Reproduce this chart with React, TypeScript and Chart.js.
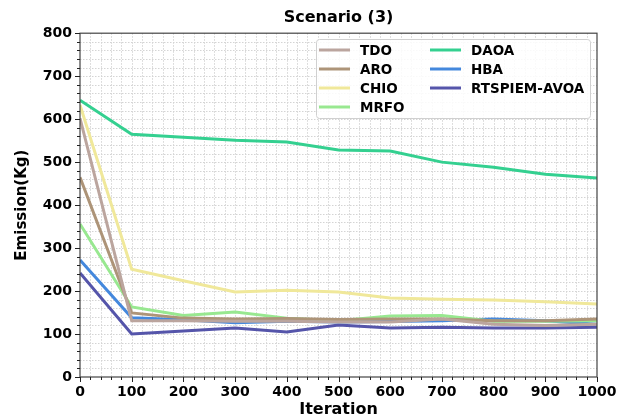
import React, { useEffect, useRef } from "react";
import { Chart, registerables } from "chart.js";

Chart.register(...registerables);

const iterations = [0, 100, 200, 300, 400, 500, 600, 700, 800, 900, 1000];
const seriesNames = ["TDO", "ARO", "CHIO", "MRFO", "DAOA", "HBA", "RTSPIEM-AVOA"];
const seriesColors = ["#bba59e", "#ad9478", "#f0e89a", "#98e890", "#34d090", "#4488dd", "#5555aa"];
const tdo = [602, 131, 131, 130, 130, 128, 128, 135, 123, 120, 123];
const aro = [465, 149, 137, 135, 136, 134, 135, 135, 131, 131, 135];
const chio = [633, 251, 224, 198, 202, 198, 184, 181, 179, 175, 170];
const mrfo = [356, 163, 143, 151, 137, 131, 142, 143, 130, 130, 131];
const daoa = [644, 565, 558, 551, 547, 528, 526, 500, 488, 472, 463];
const hba = [272, 138, 133, 126, 130, 128, 129, 131, 135, 131, 123];
const rtspiem = [242, 100, 107, 114, 105, 121, 114, 116, 114, 114, 116];
const seriesValues = [tdo, aro, chio, mrfo, daoa, hba, rtspiem];
const yTicks = [0, 100, 200, 300, 400, 500, 600, 700, 800];

const FONT = "'DejaVu Sans', sans-serif";

const decorPlugin = {
  id: "decor",
  beforeDatasetsDraw(chart: any) {
    const { ctx, chartArea: a, scales } = chart;
    const x = scales.x, y = scales.y;
    ctx.save();
    ctx.strokeStyle = "#d4d4d4";
    ctx.lineWidth = 1;
    ctx.setLineDash([1.5, 1.5]);
    for (let v = 20; v < 1000; v += 20) {
      const px = Math.round(x.getPixelForValue(v)) + 0.5;
      ctx.beginPath();
      ctx.moveTo(px, a.top);
      ctx.lineTo(px, a.bottom);
      ctx.stroke();
    }
    for (let v = 20; v < 800; v += 20) {
      const py = Math.round(y.getPixelForValue(v)) + 0.5;
      ctx.beginPath();
      ctx.moveTo(a.left, py);
      ctx.lineTo(a.right, py);
      ctx.stroke();
    }
    ctx.restore();
  },
  afterDraw(chart: any) {
    const { ctx, chartArea: a, scales } = chart;
    const x = scales.x, y = scales.y;
    ctx.save();
    ctx.strokeStyle = "#444";
    ctx.lineWidth = 1.2;
    ctx.strokeRect(a.left, a.top, a.right - a.left, a.bottom - a.top);
    ctx.strokeStyle = "#222";
    ctx.lineWidth = 1;
    for (let v = 0; v <= 1000; v += 20) {
      const len = v % 100 === 0 ? 5 : 3;
      const px = Math.round(x.getPixelForValue(v)) + 0.5;
      ctx.beginPath();
      ctx.moveTo(px, a.bottom);
      ctx.lineTo(px, a.bottom + len);
      ctx.stroke();
    }
    for (let v = 0; v <= 800; v += 20) {
      const len = v % 100 === 0 ? 5 : 3;
      const py = Math.round(y.getPixelForValue(v)) + 0.5;
      ctx.beginPath();
      ctx.moveTo(a.left, py);
      ctx.lineTo(a.left - len, py);
      ctx.stroke();
    }
    // legend
    const bx = 316, by = 39, bw = 274, bh = 79;
    ctx.fillStyle = "rgba(255,255,255,0.85)";
    ctx.strokeStyle = "#d0d0d0";
    ctx.lineWidth = 1;
    ctx.beginPath();
    (ctx as any).roundRect(bx + 0.5, by + 0.5, bw, bh, 3);
    ctx.fill();
    ctx.stroke();
    ctx.font = `bold 13.5px ${FONT}`;
    ctx.textBaseline = "middle";
    ctx.textAlign = "left";
    const rows = [50, 69, 88, 107];
    chart.data.datasets.forEach((ds: any, i: number) => {
      const col = i < 4 ? 0 : 1;
      const row = i < 4 ? i : i - 4;
      const hx = col === 0 ? 319 : 430;
      const ry = rows[row];
      ctx.strokeStyle = ds.borderColor;
      ctx.lineWidth = 3;
      ctx.beginPath();
      ctx.moveTo(hx, ry);
      ctx.lineTo(hx + 31, ry);
      ctx.stroke();
      ctx.fillStyle = "#000";
      ctx.fillText(ds.label, hx + 41, ry + 1);
    });
    ctx.restore();
  },
};

export default function App() {
  const ref = useRef<HTMLCanvasElement>(null);
  useEffect(() => {
    const chart = new Chart(ref.current!, {
      type: "line",
      data: {
        datasets: seriesNames.map((name, i) => ({
          label: name,
          data: iterations.map((it, j) => ({ x: it, y: seriesValues[i][j] })),
          borderColor: seriesColors[i],
          backgroundColor: seriesColors[i],
          borderWidth: 3,
          pointRadius: 0,
          tension: 0,
          fill: false,
        })),
      },
      options: {
        animation: false,
        responsive: false,
        devicePixelRatio: 1,
        layout: { padding: { left: 0, right: 25, top: 0, bottom: 0 } },
        plugins: {
          legend: { display: false },
          tooltip: { enabled: false },
          title: {
            display: true,
            text: "Scenario (3)",
            fullSize: false,
            color: "#000",
            font: { family: FONT, size: 16, weight: "bold" },
            padding: { top: 8, bottom: 6 },
          },
        },
        scales: {
          x: {
            type: "linear",
            min: 0,
            max: 1000,
            afterFit: (s: any) => { s.height = 43; },
            afterBuildTicks: (s: any) => { s.ticks = iterations.map((v) => ({ value: v })); },
            ticks: {
              color: "#000",
              font: { family: FONT, size: 14, weight: "bold" },
              padding: 2,
              maxRotation: 0,
              autoSkip: false,
              callback: (v: any) => String(v),
            },
            grid: { display: false, drawOnChartArea: false, tickLength: 5 },
            border: { display: false },
            title: {
              display: true,
              text: "Iteration",
              color: "#000",
              font: { family: FONT, size: 16, weight: "bold" },
              padding: { top: 0, bottom: 1 },
            },
          },
          y: {
            type: "linear",
            min: 0,
            max: 800,
            afterFit: (s: any) => { s.width = 80; },
            afterBuildTicks: (s: any) => { s.ticks = yTicks.map((v) => ({ value: v })); },
            ticks: {
              color: "#000",
              font: { family: FONT, size: 14, weight: "bold" },
              padding: 3,
              autoSkip: false,
              callback: (v: any) => String(v),
            },
            grid: { display: false, drawOnChartArea: false, tickLength: 5 },
            border: { display: false },
            title: {
              display: true,
              text: "Emission(Kg)",
              color: "#000",
              font: { family: FONT, size: 15, weight: "bold" },
              padding: { top: 13, bottom: 0 },
            },
          },
        },
      },
      plugins: [decorPlugin],
    });
    return () => chart.destroy();
  }, []);
  return (
    <div style={{ position: "fixed", left: 0, top: 0, width: 622, height: 420, background: "#fff" }}>
      <canvas ref={ref} width={622} height={420} style={{ width: 622, height: 420 }} />
    </div>
  );
}
